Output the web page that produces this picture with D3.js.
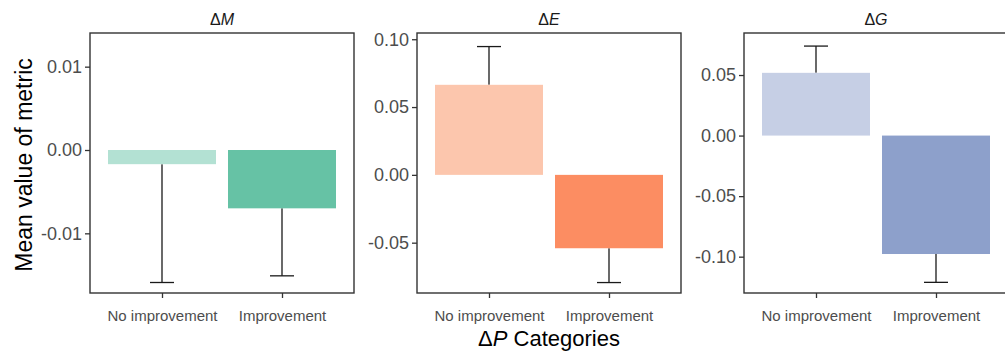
<!DOCTYPE html>
<html>
<head>
<meta charset="utf-8">
<script src="https://cdn.jsdelivr.net/npm/d3@7"></script>
<style>
  body { margin: 0; background: #fff; }
  text { font-family: "Liberation Sans", Arial, sans-serif; }
</style>
</head>
<body>
<div id="chart"></div>
<script>
// data
var categories = ["No improvement", "Improvement"];
var metrics = ["M", "E", "G"];

var meanM = [-0.0017, -0.0070];
var errEndM = [-0.0159, -0.0151];
var meanE = [0.0664, -0.0541];
var errEndE = [0.0946, -0.0794];
var meanG = [0.0518, -0.0978];
var errEndG = [0.0739, -0.1212];

var domainM = [-0.01716, 0.01404];
var domainE = [-0.0871, 0.1046];
var domainG = [-0.130, 0.0847];

var ticksM = [-0.01, 0, 0.01];
var ticksE = [-0.05, 0, 0.05, 0.10];
var ticksG = [-0.10, -0.05, 0, 0.05];

var colorsM = ["#b3e1d3", "#66c2a5"];
var colorsE = ["#fcc6ad", "#fc8d62"];
var colorsG = ["#c6cfe5", "#8da0cb"];

var panels = [
  {name: metrics[0], mean: meanM, end: errEndM, domain: domainM, ticks: ticksM, colors: colorsM, left: 90},
  {name: metrics[1], mean: meanE, end: errEndE, domain: domainE, ticks: ticksE, colors: colorsE, left: 417},
  {name: metrics[2], mean: meanG, end: errEndG, domain: domainG, ticks: ticksG, colors: colorsG, left: 744}
];

var W = 1005, H = 354;
var panelTop = 33, panelBottom = 293, panelW = 264;

var svg = d3.select("#chart").append("svg")
  .attr("width", W)
  .attr("height", H);

panels.forEach(function(p){
  var g = svg.append("g")
    .attr("transform", "translate(" + p.left + "," + panelTop + ")");
  var h = panelBottom - panelTop;

  var x = d3.scalePoint()
    .domain(categories)
    .range([0, panelW])
    .padding(0.6);
  var step = x.step();

  var y = d3.scaleLinear()
    .domain(p.domain)
    .range([h, 0]);

  var rows = categories.map(function(c, i){
    return {cat: c, mean: p.mean[i], end: p.end[i], color: p.colors[i]};
  });

  // error bars (drawn first, bars on top)
  g.selectAll(".err")
    .data(rows)
  .enter().append("line")
    .attr("x1", function(d){ return x(d.cat); })
    .attr("x2", function(d){ return x(d.cat); })
    .attr("y1", function(d){ return y(d.mean); })
    .attr("y2", function(d){ return y(d.end); })
    .attr("stroke", "#1a1a1a")
    .attr("stroke-width", 1.3);

  g.selectAll(".cap")
    .data(rows)
  .enter().append("line")
    .attr("x1", function(d){ return x(d.cat) - step * 0.1; })
    .attr("x2", function(d){ return x(d.cat) + step * 0.1; })
    .attr("y1", function(d){ return y(d.end); })
    .attr("y2", function(d){ return y(d.end); })
    .attr("stroke", "#1a1a1a")
    .attr("stroke-width", 1.3);

  g.selectAll(".bar")
    .data(rows)
  .enter().append("rect")
    .attr("x", function(d){ return x(d.cat) - step * 0.45; })
    .attr("width", step * 0.9)
    .attr("y", function(d){ return y(Math.max(0, d.mean)); })
    .attr("height", function(d){ return Math.abs(y(d.mean) - y(0)); })
    .attr("fill", function(d){ return d.color; });

  // panel border
  g.append("rect")
    .attr("width", panelW)
    .attr("height", h)
    .attr("fill", "none")
    .attr("stroke", "#333")
    .attr("stroke-width", 1.4);

  var yAxis = d3.axisLeft(y)
    .tickValues(p.ticks)
    .tickSize(5)
    .tickPadding(3)
    .tickFormat(function(d){ return d3.format(".2f")(d).replace("\u2212", "-"); });
  var ya = g.append("g").call(yAxis);
  ya.select(".domain").remove();
  ya.selectAll("line").attr("stroke", "#333").attr("stroke-width", 1.3);
  ya.selectAll("text")
    .attr("fill", "#4d4d4d")
    .style("font-size", "18px");

  var xAxis = d3.axisBottom(x)
    .tickSize(5)
    .tickPadding(12);
  var xa = g.append("g")
    .attr("transform", "translate(0," + h + ")")
    .call(xAxis);
  xa.select(".domain").remove();
  xa.selectAll("line").attr("stroke", "#333").attr("stroke-width", 1.3);
  xa.selectAll("text")
    .attr("fill", "#4d4d4d")
    .style("font-size", "15px");

  // strip title
  var t = g.append("text")
    .attr("x", panelW / 2)
    .attr("y", -8)
    .attr("text-anchor", "middle")
    .attr("fill", "#1a1a1a")
    .style("font-size", "16px");
  t.append("tspan").text("\u0394");
  t.append("tspan").style("font-style", "italic").text(p.name);
});

// axis titles
svg.append("text")
  .attr("transform", "translate(32," + 165 + ") rotate(-90)")
  .attr("text-anchor", "middle")
  .attr("fill", "#000")
  .style("font-size", "23px")
  .text("Mean value of metric");

var xt = svg.append("text")
  .attr("x", 549)
  .attr("y", 346)
  .attr("text-anchor", "middle")
  .attr("fill", "#000")
  .style("font-size", "22px");
xt.append("tspan").text("\u0394");
xt.append("tspan").style("font-style", "italic").text("P");
xt.append("tspan").text(" Categories");
</script>
</body>
</html>
